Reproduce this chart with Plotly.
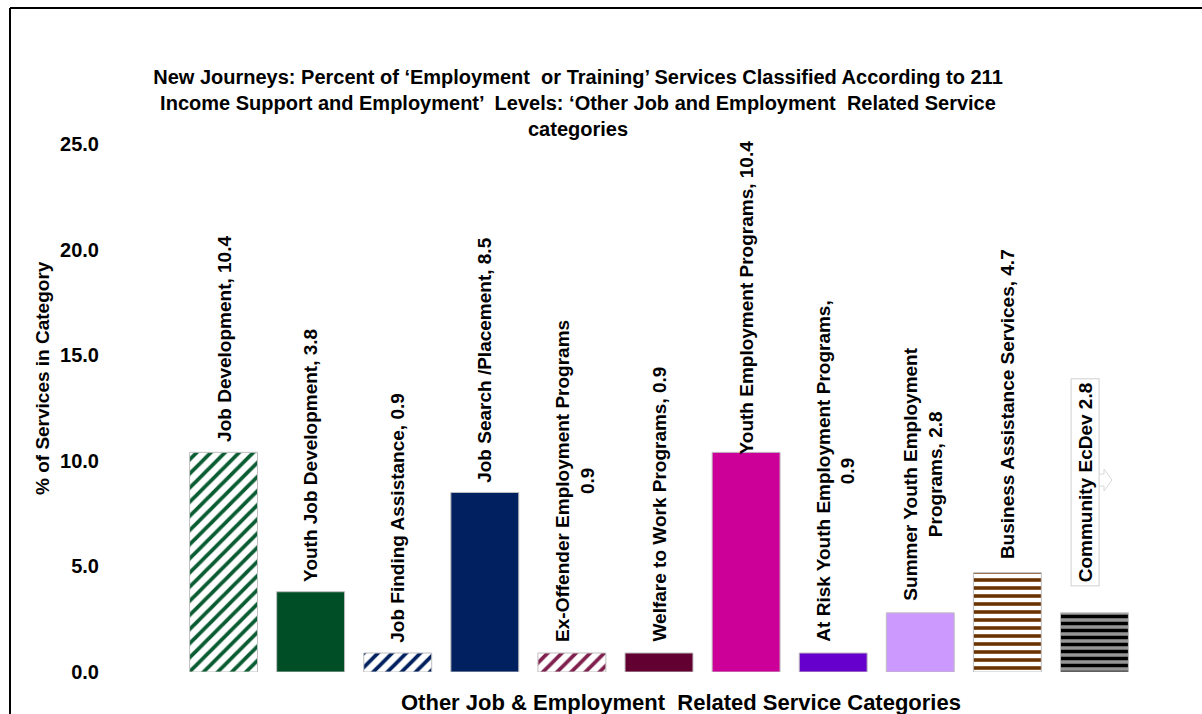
import plotly.graph_objects as go

# Service categories, share of services (%) and how each bar label is laid out
categories = [
    "Job Development",
    "Youth Job Development",
    "Job Finding Assistance",
    "Job Search /Placement",
    "Ex-Offender Employment Programs",
    "Welfare to Work Programs",
    "Youth Employment Programs",
    "At Risk Youth Employment Programs",
    "Summer Youth Employment Programs",
    "Business Assistance Services",
    "Community EcDev",
]
values = [10.4, 3.8, 0.9, 8.5, 0.9, 0.9, 10.4, 0.9, 2.8, 4.7, 2.8]
label_names = [
    "Job Development",
    "Youth Job Development",
    "Job Finding Assistance",
    "Job Search /Placement",
    "Ex-Offender Employment Programs",
    "Welfare to Work Programs",
    "Youth Employment Programs",
    "At Risk Youth Employment Programs",
    "Summer Youth Employment<br>Programs",
    "Business Assistance Services",
    "Community EcDev",
]
label_separators = [", ", ", ", ", ", ", ", "<br>", ", ", ", ", ",<br>", ", ", ", ", " "]
y_ticks = [0, 5, 10, 15, 20, 25]

# Bar fills: main (stripe or solid) colour, stripe shape and stripe background
bar_colors = ["#0A5C32", "#004E26", "#002060", "#002060", "#80204E", "#620031",
              "#CC0099", "#6600CC", "#CC99FF", "#6B3300", "#000000"]
stripe_shapes = ["/", "", "/", "", "/", "", "", "", "", "-", "-"]
stripe_bg = ["#FFFFFF", "#FFFFFF", "#FFFFFF", "#FFFFFF", "#FFFFFF", "#FFFFFF",
             "#FFFFFF", "#FFFFFF", "#FFFFFF", "#FFFFFF", "#969696"]
stripe_sizes = [10, 8, 10, 8, 10, 8, 8, 8, 8, 8, 7]
stripe_solidity = [0.38, 0.5, 0.38, 0.5, 0.38, 0.5, 0.5, 0.5, 0.5, 0.45, 0.5]

# Vertical nudges (px) for individual bar labels, and horizontal nudges
label_yshift = [9, 9, 9, 9, 10, 10, -3, 10, 11, 13, 27]
label_xshift = [1, 0, 0, 0, 3, 0, 0, 3, 3, 0, -9]

FONT = "Liberation Sans, Arial, sans-serif"
W, H = 1202, 714
L, R, T, B = 180, 64, 144, 42

fig = go.Figure()
# One trace per bar so each striped fill keeps its own background colour
for i, cat in enumerate(categories):
    fig.add_trace(go.Bar(
        x=[i],
        y=[values[i]],
        width=0.78,
        name=cat,
        marker=dict(
            color=bar_colors[i],
            line=dict(color="#BFBFBF", width=1),
            pattern=dict(
                shape=stripe_shapes[i],
                bgcolor=stripe_bg[i],
                size=stripe_sizes[i],
                solidity=stripe_solidity[i],
                fillmode="replace",
            ),
        ),
        hovertemplate=f"{cat}: %{{y:.1f}}<extra></extra>",
    ))

annotations = []
for i, (name, sep, v) in enumerate(zip(label_names, label_separators, values)):
    boxed = i == len(values) - 1
    annotations.append(dict(
        x=i, y=v, xref="x", yref="y",
        text=f"{name}{sep}{v:.1f}",
        textangle=-90,
        showarrow=False,
        xanchor="center", yanchor="bottom",
        yshift=label_yshift[i], xshift=label_xshift[i],
        align="center",
        font=dict(family=FONT, size=19, color="#000000", weight="bold"),
        bgcolor="#FFFFFF" if boxed else None,
        bordercolor="#D0D0D0" if boxed else None,
        borderwidth=1 if boxed else 0,
        borderpad=3 if boxed else 1,
    ))


def px_x(p):
    return (p - L) / (W - L - R)


def px_y(p):
    return ((H - B) - p) / (H - T - B)


# Axis titles
annotations.append(dict(
    x=px_x(681), y=px_y(702),
    xref="paper", yref="paper", showarrow=False,
    text="Other Job & Employment  Related Service Categories",
    xanchor="center", yanchor="middle",
    font=dict(family=FONT, size=22, color="#000000", weight="bold"),
))
annotations.append(dict(
    x=px_x(42), y=px_y(378),
    xref="paper", yref="paper", showarrow=False, textangle=-90,
    text="% of Services in Category",
    xanchor="center", yanchor="middle",
    font=dict(family=FONT, size=19, color="#000000", weight="bold"),
))

# Outer frame (top and left edges) and the callout notch on the last label
shapes = [
    dict(type="line", xref="paper", yref="paper", x0=px_x(10), x1=px_x(W + 5),
         y0=px_y(8), y1=px_y(8), line=dict(color="#000000", width=2)),
    dict(type="line", xref="paper", yref="paper", x0=px_x(10), x1=px_x(10),
         y0=px_y(8), y1=px_y(H + 5), line=dict(color="#000000", width=2)),
]
notch = [(1097, 474), (1104, 474), (1104, 469), (1112, 480), (1104, 491), (1104, 486), (1097, 486)]
path = "M " + " L ".join(f"{px_x(a)},{px_y(b)}" for a, b in notch)
shapes.append(dict(type="path", xref="paper", yref="paper", path=path,
                   fillcolor="#FFFFFF", line=dict(color="#DADADA", width=1)))

fig.update_layout(
    width=W, height=H,
    margin=dict(l=L, r=R, t=T, b=B, autoexpand=False),
    paper_bgcolor="#FFFFFF", plot_bgcolor="#FFFFFF",
    showlegend=False,
    barmode="overlay",
    title=dict(
        text="New Journeys: Percent of ‘Employment  or Training’ Services Classified According to 211<br>"
             "Income Support and Employment’  Levels: ‘Other Job and Employment  Related Service<br>"
             "categories",
        x=578 / W, xanchor="center", xref="container",
        y=1 - 84 / H, yanchor="top", yref="container",
        font=dict(family=FONT, size=20, color="#000000", weight="bold"),
    ),
    xaxis=dict(
        range=[-0.5, len(categories) - 0.5],
        showticklabels=False, showgrid=False, zeroline=False, showline=False, ticks="",
    ),
    yaxis=dict(
        range=[0, 25], tickvals=y_ticks, tickformat=".1f",
        showgrid=False, zeroline=False, showline=False, ticks="",
        ticklabelstandoff=80,
        tickfont=dict(family=FONT, size=20, color="#000000", weight="bold"),
    ),
    annotations=annotations,
    shapes=shapes,
    font=dict(family=FONT),
)

fig.write_html("out.html")
